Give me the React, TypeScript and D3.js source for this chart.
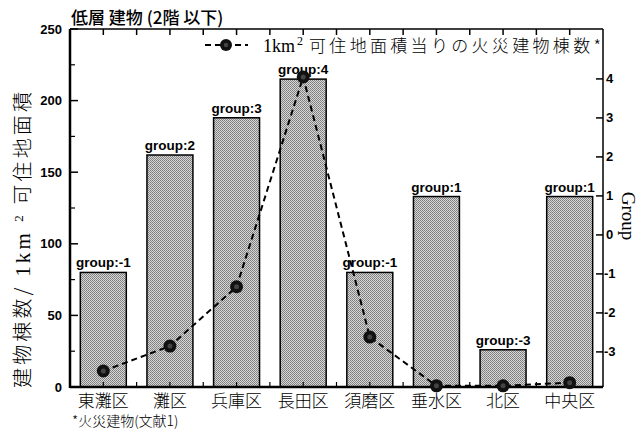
import React from 'react';
import * as d3 from 'd3';

const categories = ['東灘区', '灘区', '兵庫区', '長田区', '須磨区', '垂水区', '北区', '中央区'];
const buildingCounts = [80, 162, 188, 215, 80, 133, 26, 133];
const groups = [-1, 2, 3, 4, -1, 1, -3, 1];
// fire-building counts per km², plotted against the right-hand (Group) scale
const fireCounts = [-3.49, -2.85, -1.33, 4.05, -2.62, -3.87, -3.87, -3.79];
const leftTicks = [0, 50, 100, 150, 200, 250];
const leftMinorTicks = [25, 75, 125, 175, 225];
const rightTicks = [-3, -2, -1, 0, 1, 2, 3, 4];

const W = 644;
const H = 432;
const X0 = 70;
const X1 = 603;
const Y0 = 29;
const Y1 = 387;

const SANS = '"Liberation Sans", Arial, sans-serif';
const SERIF = '"Liberation Serif", "Times New Roman", serif';
const CJK = '"Noto Sans CJK JP", sans-serif';

export default function App() {
  const x = d3.scaleBand<string>().domain(categories).range([X0, X1]).paddingInner(0.31).paddingOuter(0.155);
  const step = (X1 - X0) / categories.length;
  const yL = d3.scaleLinear().domain([0, 250]).range([Y1, Y0]);
  const yR = d3.scaleLinear().domain([-3.9, 5.28]).range([Y1, Y0]);
  const cx = (c: string) => (x(c) as number) + x.bandwidth() / 2;

  const line = d3
    .line<number>()
    .x((_, i) => cx(categories[i]))
    .y((d) => yR(d));

  const boundaries = d3.range(1, categories.length).map((i) => X0 + i * step);

  return (
    <div style={{ position: 'fixed', left: 0, top: 0 }}>
      <svg width={W} height={H} style={{ display: 'block', background: '#fff' }}>
        <defs>
          <pattern id="halftone" width="2" height="2" patternUnits="userSpaceOnUse">
            <rect width="2" height="2" fill="#d6d6d6" />
            <rect x="0" y="0" width="1" height="1" fill="#7c7c7c" />
            <rect x="1" y="1" width="1" height="1" fill="#8a8a8a" />
          </pattern>
        </defs>

        {/* title */}
        <text x={71} y={24} fontFamily={CJK} fontSize={17} fontWeight={500} fill="#000">
          低層 建物 (2階 以下)
        </text>

        {/* bars */}
        {categories.map((c, i) => (
          <rect
            key={c}
            x={x(c)}
            y={yL(buildingCounts[i])}
            width={x.bandwidth()}
            height={Y1 - yL(buildingCounts[i])}
            fill="url(#halftone)"
            stroke="#000"
            strokeWidth={1.5}
          />
        ))}

        {/* bar labels */}
        {categories.map((c, i) => (
          <text
            key={c + '-g'}
            x={cx(c)}
            y={yL(buildingCounts[i]) - 5}
            textAnchor="middle"
            fontFamily={SANS}
            fontWeight="bold"
            fontSize={13.5}
            fill="#000"
          >
            {`group:${groups[i]}`}
          </text>
        ))}

        {/* frame */}
        <line x1={X0} x2={X1} y1={Y0} y2={Y0} stroke="#000" strokeWidth={1.5} />
        <line x1={X1} x2={X1} y1={Y0} y2={Y1} stroke="#000" strokeWidth={1.5} />
        <line x1={X0} x2={X0} y1={Y0} y2={Y1 + 1} stroke="#000" strokeWidth={2.5} />
        <line x1={X0} x2={X1} y1={Y1} y2={Y1} stroke="#000" strokeWidth={2.5} />

        {/* top & bottom ticks */}
        {categories.map((c) => (
          <g key={c + '-t'}>
            <line x1={cx(c)} x2={cx(c)} y1={Y0} y2={Y0 + 6} stroke="#000" strokeWidth={1.5} />
            <line x1={cx(c)} x2={cx(c)} y1={Y1} y2={Y1 - 5} stroke="#000" strokeWidth={1.2} />
          </g>
        ))}
        {boundaries.map((b, i) => (
          <g key={'b' + i}>
            <line x1={b} x2={b} y1={Y0} y2={Y0 + 6} stroke="#000" strokeWidth={1.5} />
            <line x1={b} x2={b} y1={Y1} y2={Y1 - 5} stroke="#000" strokeWidth={1.2} />
          </g>
        ))}

        {/* left axis */}
        {leftTicks.map((t) => (
          <g key={'l' + t}>
            <line x1={X0} x2={X0 + 8} y1={yL(t)} y2={yL(t)} stroke="#000" strokeWidth={1.5} />
            <text
              x={62}
              y={yL(t)}
              dy="0.35em"
              textAnchor="end"
              fontFamily={SANS}
              fontWeight="bold"
              fontSize={13}
              fill="#000"
            >
              {t}
            </text>
          </g>
        ))}
        {leftMinorTicks.map((t) => (
          <line key={'lm' + t} x1={X0} x2={X0 + 5} y1={yL(t)} y2={yL(t)} stroke="#000" strokeWidth={1.2} />
        ))}

        {/* right axis */}
        {rightTicks.map((t) => (
          <g key={'r' + t}>
            <line x1={X1 - 7} x2={X1} y1={yR(t)} y2={yR(t)} stroke="#000" strokeWidth={1.5} />
            <text
              x={t < 0 ? X1 + 1 : X1 + 3}
              y={yR(t)}
              dy="0.35em"
              fontFamily={SANS}
              fontWeight="bold"
              fontSize={13}
              fill="#000"
            >
              {t}
            </text>
          </g>
        ))}

        {/* dashed line and points */}
        <path d={line(fireCounts) as string} fill="none" stroke="#000" strokeWidth={2} strokeDasharray="6,4" />
        {fireCounts.map((v, i) => (
          <g key={'p' + i}>
            <circle cx={cx(categories[i])} cy={yR(v)} r={6.5} fill="#111" />
            <circle cx={cx(categories[i])} cy={yR(v)} r={2.5} fill="#444" />
          </g>
        ))}

        {/* legend */}
        <line x1={205} x2={248} y1={45} y2={45} stroke="#000" strokeWidth={2} strokeDasharray="6,4" />
        <circle cx={226} cy={45} r={6} fill="#111" />
        <circle cx={226} cy={45} r={2.3} fill="#444" />
        <text x={263} y={52} fontFamily={SERIF} fontSize={18} fill="#000">
          1km
        </text>
        <text x={297} y={45} fontFamily={SERIF} fontSize={12} fill="#000">
          2
        </text>
        <text
          x={309}
          y={52}
          fontFamily={CJK}
          fontWeight={300}
          fontSize={17}
          textLength={292}
          lengthAdjust="spacing"
          fill="#000"
        >
          可住地面積当りの火災建物棟数*
        </text>

        {/* category labels */}
        {categories.map((c) => (
          <text
            key={c + '-x'}
            x={cx(c)}
            y={407}
            textAnchor="middle"
            fontFamily={CJK}
            fontWeight={300}
            fontSize={17}
            fill="#000"
          >
            {c}
          </text>
        ))}

        {/* footnote */}
        <text x={72} y={426} fontFamily={CJK} fontWeight={300} fontSize={14} fill="#000">
          *火災建物(文献1)
        </text>

        {/* left axis title */}
        <text
          transform={`translate(30, 240) rotate(-90)`}
          textAnchor="middle"
          fontFamily={CJK}
          fontWeight={300}
          fontSize={20}
          textLength={296}
          lengthAdjust="spacing"
          fill="#000"
        >
          <tspan fontFamily={CJK}>建物棟数/ </tspan>
          <tspan fontFamily={SERIF} fontSize={21}>1km </tspan>
          <tspan fontFamily={SERIF} fontSize={13} dy={-7}>2</tspan>
          <tspan dy={7}> 可住地面積</tspan>
        </text>

        {/* right axis title */}
        <text
          transform={`translate(622, 216) rotate(90)`}
          textAnchor="middle"
          fontFamily={SERIF}
          fontSize={19}
          fill="#000"
        >
          Group
        </text>
      </svg>
    </div>
  );
}
